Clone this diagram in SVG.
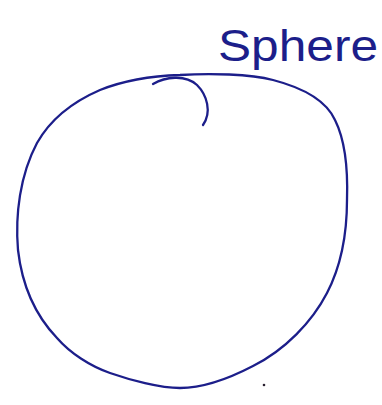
<svg xmlns="http://www.w3.org/2000/svg" width="382" height="405" viewBox="0 0 382 405">
<style>
.ink{fill:none;stroke:#1c1e8a;stroke-width:2.3;stroke-linecap:round;stroke-linejoin:round}
.lbl{font-family:"Liberation Sans","DejaVu Sans",sans-serif;font-size:45px;fill:#1c1e8a}
</style>
<rect width="382" height="405" fill="#ffffff"/>
<g id="sphere">
<path class="ink" d="M 180,75 C 210,73 250,74 273,80 C 300,87 325,98 335,120 C 345,140 348,170 347,200 C 347,240 340,268 327,293 C 312,322 285,350 253,366 C 230,378 205,388 180,388 C 160,388 130,380 110,373 C 90,366 70,353 57,338 C 35,315 22,285 18,250 C 15,215 20,175 37,143 C 50,120 70,103 100,90 C 125,80 150,76 180,75 Z"/>
<path class="ink" d="M 153,84 C 165,77 185,74 197,85 C 207,95 212,112 203,125"/>
</g>
<g id="label">
<text class="lbl" x="218" y="61" textLength="160" lengthAdjust="spacingAndGlyphs">Sphere</text>
</g>
<circle cx="264" cy="385" r="1.3" fill="#2a2030"/>
</svg>
